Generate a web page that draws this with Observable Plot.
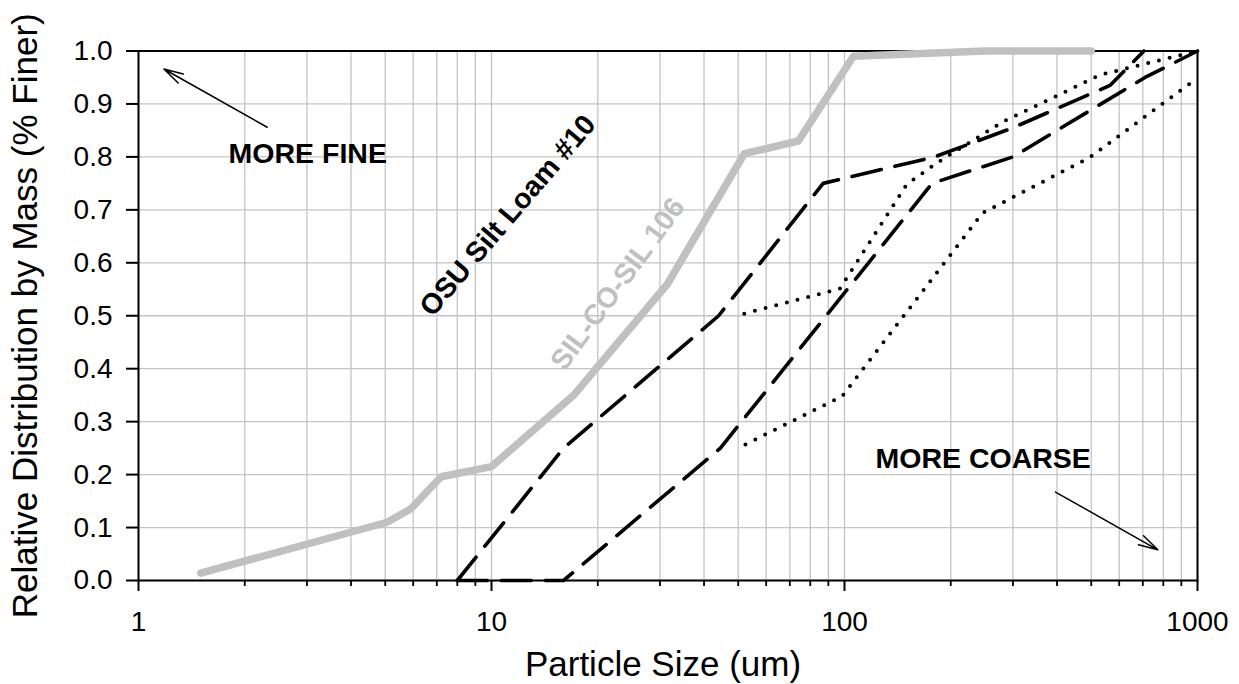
<!DOCTYPE html>
<html><head><meta charset="utf-8">
<script src="https://cdn.jsdelivr.net/npm/d3@7"></script>
<script src="https://cdn.jsdelivr.net/npm/@observablehq/plot@0.6"></script>
<style>html,body{margin:0;background:#fff}svg{display:block}</style>
</head><body><div id="chart"></div>
<script>
// SIL-CO-SIL 106 (grey thick line)
const silX = [1.5, 5.06, 5.9, 7.2, 10, 17.1, 31.5, 52, 74, 106, 250, 500];
const silY = [0.014, 0.11, 0.135, 0.196, 0.215, 0.35, 0.56, 0.806, 0.83, 0.99, 1.0, 1.0];
// OSU Silt Loam #10 bounds (dashed)
const osuHiX = [8, 16, 44, 87, 180, 300, 565, 705];
const osuHiY = [0, 0.25, 0.5, 0.75, 0.80, 0.855, 0.935, 1.0];
const osuLoX = [8, 16, 44.5, 177, 300, 710, 1000];
const osuLoY = [0, 0, 0.25, 0.75, 0.80, 0.95, 1.0];
// dotted bounds
const dotHiX = [52, 97, 150, 184, 282, 531, 1000];
const dotHiY = [0.504, 0.551, 0.748, 0.79, 0.867, 0.955, 1.0];
const dotLoX = [52.4, 98.5, 246, 495, 1000];
const dotLoY = [0.257, 0.348, 0.694, 0.799, 0.949];

// axis ticks
const xMajor = [1, 10, 100, 1000];
const xMinorMult = [2, 3, 4, 5, 6, 7, 8, 9];
const yTicks = [0, 0.1, 0.2, 0.3, 0.4, 0.5, 0.6, 0.7, 0.8, 0.9, 1.0];

// annotations (data coordinates)
const arrowFine = [{x1: 2.315, y1: 0.856, x2: 1.18, y2: 0.966}];
const arrowCoarse = [{x1: 396, y1: 0.167, x2: 772, y2: 0.058}];
const noteFine = [{x: 1.80, y: 0.806, t: "MORE FINE"}];
const noteCoarse = [{x: 122.4, y: 0.230, t: "MORE COARSE"}];
const labelOsu = [{x: 11.13, y: 0.689, t: "OSU Silt Loam #10"}];
const labelSil = [{x: 22.8, y: 0.560, t: "SIL-CO-SIL 106"}];

const xTitle = "Particle Size (um)";
const yTitle = "Relative Distribution by Mass (% Finer)";

const pts = (xs, ys) => xs.map((x, i) => ({x, y: ys[i]}));
const xMinor = [1, 10, 100].flatMap(d => xMinorMult.map(m => d * m));
const gridCol = "#c4c4c4";
const font = "Liberation Sans, Arial, Helvetica, sans-serif";

const chart = Plot.plot({
  width: 1239, height: 684,
  marginLeft: 138, marginRight: 42, marginTop: 50.5, marginBottom: 104,
  style: {fontFamily: font, background: "white", color: "black"},
  x: {type: "log", domain: [1, 1000], label: null},
  y: {domain: [0, 1], label: null},
  marks: [
    Plot.gridX(xMinor.concat(xMajor), {stroke: gridCol, strokeOpacity: 1, strokeWidth: 1.3}),
    Plot.gridY(yTicks, {stroke: gridCol, strokeOpacity: 1, strokeWidth: 1.3}),
    Plot.frame({stroke: "black", strokeWidth: 2}),
    Plot.axisX(xMinor, {tickSize: 6, tickFormat: () => "", strokeWidth: 1.8, label: null}),
    Plot.axisX(xMajor, {tickSize: 11, tickPadding: 20, tickFormat: d => String(d), fontSize: 28, strokeWidth: 2, label: null}),
    Plot.axisY(yTicks, {tickSize: 12, tickPadding: 14, tickFormat: d => d.toFixed(1), fontSize: 28, strokeWidth: 2, label: null}),
    Plot.line(pts(dotLoX, dotLoY), {x: "x", y: "y", stroke: "black", strokeWidth: 4, strokeDasharray: "0,11", strokeLinecap: "round"}),
    Plot.line(pts(dotHiX, dotHiY), {x: "x", y: "y", stroke: "black", strokeWidth: 4, strokeDasharray: "0,11", strokeLinecap: "round"}),
    Plot.line(pts(osuLoX, osuLoY), {x: "x", y: "y", stroke: "black", strokeWidth: 3.6, strokeDasharray: "30,14"}),
    Plot.line(pts(osuHiX, osuHiY), {x: "x", y: "y", stroke: "black", strokeWidth: 3.6, strokeDasharray: "30,14"}),
    Plot.line(pts(silX, silY), {x: "x", y: "y", stroke: "#c0c0c0", strokeWidth: 7.5, strokeLinecap: "round", strokeLinejoin: "round"}),
    Plot.arrow(arrowFine, {x1: "x1", y1: "y1", x2: "x2", y2: "y2", stroke: "black", strokeWidth: 1.5, headLength: 20, headAngle: 30}),
    Plot.arrow(arrowCoarse, {x1: "x1", y1: "y1", x2: "x2", y2: "y2", stroke: "black", strokeWidth: 1.5, headLength: 20, headAngle: 30}),
    Plot.text(noteFine, {x: "x", y: "y", text: "t", textAnchor: "start", lineAnchor: "middle", fontSize: 28.5, fontWeight: "bold", fill: "black"}),
    Plot.text(noteCoarse, {x: "x", y: "y", text: "t", textAnchor: "start", lineAnchor: "middle", fontSize: 28.5, fontWeight: "bold", fill: "black"}),
    Plot.text(labelOsu, {x: "x", y: "y", text: "t", rotate: -49.5, lineAnchor: "middle", fontSize: 28.5, fontWeight: "bold", fill: "black"}),
    Plot.text(labelSil, {x: "x", y: "y", text: "t", rotate: -53.7, lineAnchor: "middle", fontSize: 28.5, fontWeight: "bold", fill: "#c0c0c0"}),
    Plot.text([yTitle], {frameAnchor: "left", textAnchor: "middle", rotate: -90, dx: -112.5, lineAnchor: "middle", fontSize: 35, fill: "black"}),
    Plot.text([xTitle], {frameAnchor: "bottom", textAnchor: "middle", dy: 84, dx: -5, lineAnchor: "middle", fontSize: 35, fill: "black"})
  ]
});
document.getElementById("chart").appendChild(chart);
</script>
</body></html>
